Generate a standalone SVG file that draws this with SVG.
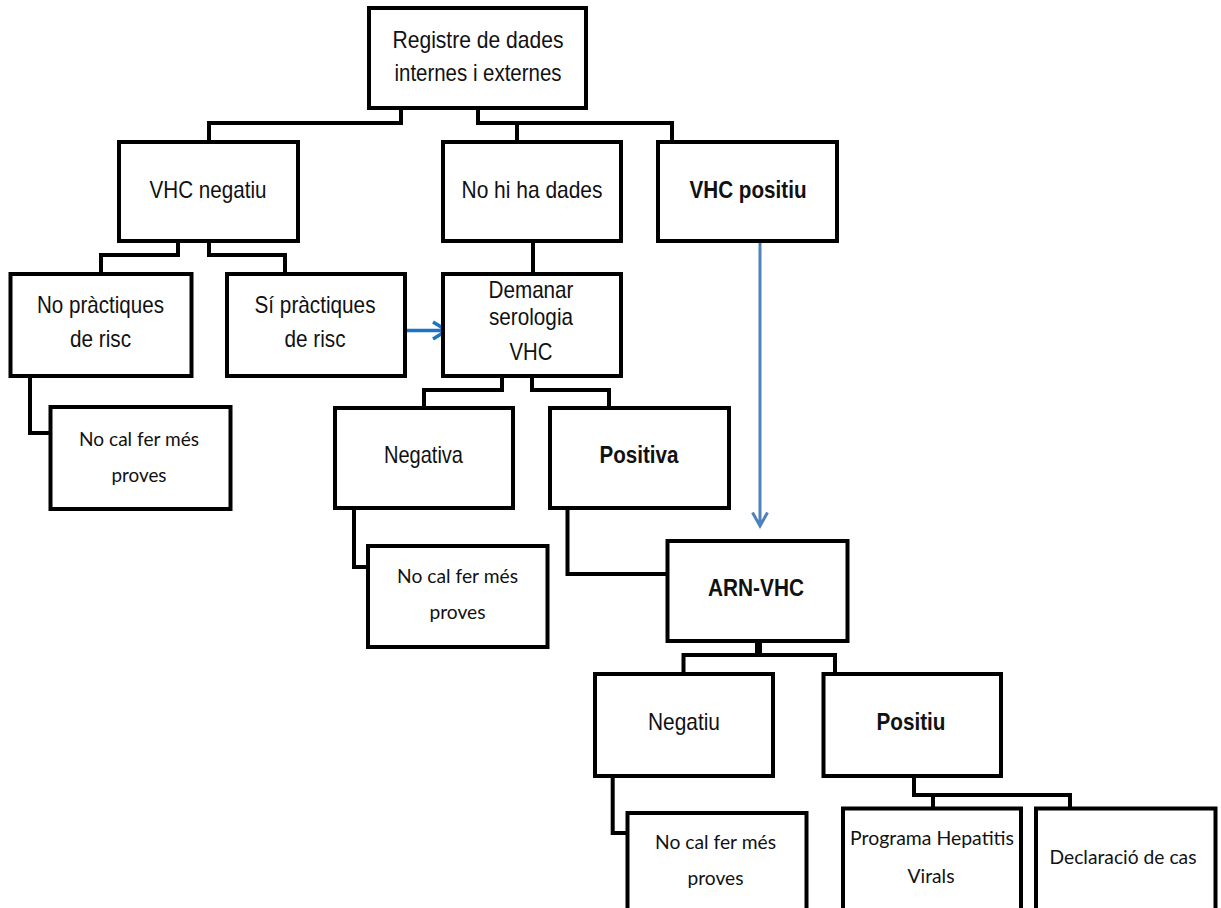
<svg xmlns="http://www.w3.org/2000/svg" width="1221" height="908" viewBox="0 0 1221 908">
<style>
.box{fill:#fff;stroke:#000;stroke-width:4}
.t{font-family:"Liberation Sans",Arial,sans-serif;font-size:24px;fill:#111;text-anchor:middle}
.b{font-weight:bold}
.c{font-family:Lato,"Open Sans",sans-serif;font-size:19px;fill:#111;text-anchor:middle}
.ln{fill:none;stroke:#000;stroke-width:4;stroke-linejoin:miter}
</style>
<rect width="1221" height="908" fill="#fff"/>
<g id="connectors">
<path class="ln" d="M401,108 V123 H209 V142"/>
<path class="ln" d="M478,108 V123 H672 V142 M517,123 V142"/>
<path class="ln" d="M178,241 V255 H101 V274 M209,241 V255 H285 V274"/>
<path class="ln" d="M533,241 V274"/>
<path class="ln" d="M30,376 V433 H52"/>
<path class="ln" d="M502,376 V390 H424 V408 M532,376 V390 H609 V408"/>
<path class="ln" d="M354,508 V567 H370"/>
<path class="ln" d="M567.5,508 V574 H667"/>
<path class="ln" d="M758.5,641 V655" style="stroke-width:7"/>
<path class="ln" d="M683.5,673 V655 H835 V673"/>
<path class="ln" d="M612.7,776 V833 H628"/>
<path class="ln" d="M914,776 V795 H1070 V808 M933,795 V808"/>
<path fill="none" stroke="#1a75c4" stroke-width="3.5" d="M405,330.5 H446 M433,322 L447,330.5 L433,339"/>
<path fill="none" stroke="#4f81bd" stroke-width="3" d="M760,241 V525 M752.5,512.5 L760,526 L767.5,512.5"/>
</g>
<g id="root"><rect class="box" x="369" y="8" width="217" height="100"/>
<text class="t" x="478" y="48" textLength="171" lengthAdjust="spacingAndGlyphs">Registre de dades</text>
<text class="t" x="478" y="81" textLength="167" lengthAdjust="spacingAndGlyphs">internes i externes</text></g>
<g id="vhc-negatiu"><rect class="box" x="119" y="142" width="179" height="99"/>
<text class="t" x="208" y="198" textLength="117" lengthAdjust="spacingAndGlyphs">VHC negatiu</text></g>
<g id="no-dades"><rect class="box" x="443" y="142" width="178" height="99"/>
<text class="t" x="532" y="198" textLength="141" lengthAdjust="spacingAndGlyphs">No hi ha dades</text></g>
<g id="vhc-positiu"><rect class="box" x="658" y="142" width="179" height="99"/>
<text class="t b" x="748" y="198" textLength="117" lengthAdjust="spacingAndGlyphs">VHC positiu</text></g>
<g id="no-practiques"><rect class="box" x="10.5" y="274" width="181" height="102"/>
<text class="t" x="100.5" y="313" textLength="127" lengthAdjust="spacingAndGlyphs">No pràctiques</text>
<text class="t" x="100.5" y="347" textLength="61" lengthAdjust="spacingAndGlyphs">de risc</text></g>
<g id="si-practiques"><rect class="box" x="227" y="274" width="178" height="102"/>
<text class="t" x="315" y="313" textLength="121" lengthAdjust="spacingAndGlyphs">Sí pràctiques</text>
<text class="t" x="315" y="347" textLength="61" lengthAdjust="spacingAndGlyphs">de risc</text></g>
<g id="demanar"><rect class="box" x="443" y="274" width="178" height="102"/>
<text class="t" x="531" y="298" textLength="85" lengthAdjust="spacingAndGlyphs">Demanar</text>
<text class="t" x="531" y="325" textLength="84" lengthAdjust="spacingAndGlyphs">serologia</text>
<text class="t" x="531" y="360" textLength="43" lengthAdjust="spacingAndGlyphs">VHC</text></g>
<g id="no-cal-1"><rect class="box" x="50.5" y="407" width="180" height="102"/>
<text class="c" x="139" y="446" textLength="120" lengthAdjust="spacingAndGlyphs">No cal fer més</text>
<text class="c" x="139" y="482" textLength="55" lengthAdjust="spacingAndGlyphs">proves</text></g>
<g id="negativa"><rect class="box" x="335" y="408" width="178" height="100"/>
<text class="t" x="423.5" y="463" textLength="79" lengthAdjust="spacingAndGlyphs">Negativa</text></g>
<g id="positiva"><rect class="box" x="550" y="408" width="179" height="100"/>
<text class="t b" x="639" y="463" textLength="79" lengthAdjust="spacingAndGlyphs">Positiva</text></g>
<g id="no-cal-2"><rect class="box" x="368" y="546" width="179.5" height="101"/>
<text class="c" x="457.5" y="583" textLength="121" lengthAdjust="spacingAndGlyphs">No cal fer més</text>
<text class="c" x="457.5" y="619" textLength="56" lengthAdjust="spacingAndGlyphs">proves</text></g>
<g id="arn-vhc"><rect class="box" x="667.5" y="541" width="180" height="100"/>
<text class="t b" x="756" y="596" textLength="96" lengthAdjust="spacingAndGlyphs">ARN-VHC</text></g>
<g id="negatiu"><rect class="box" x="595" y="674" width="178" height="102"/>
<text class="t" x="684" y="730" textLength="72" lengthAdjust="spacingAndGlyphs">Negatiu</text></g>
<g id="positiu"><rect class="box" x="823.5" y="674" width="177.5" height="102"/>
<text class="t b" x="911" y="730" textLength="69" lengthAdjust="spacingAndGlyphs">Positiu</text></g>
<g id="no-cal-3"><rect class="box" x="627.5" y="813" width="179" height="105"/>
<text class="c" x="715.5" y="849" textLength="121" lengthAdjust="spacingAndGlyphs">No cal fer més</text>
<text class="c" x="715.5" y="885" textLength="56" lengthAdjust="spacingAndGlyphs">proves</text></g>
<g id="programa"><rect class="box" x="843" y="808.5" width="178" height="110"/>
<text class="c" x="932" y="845" textLength="164" lengthAdjust="spacingAndGlyphs">Programa  Hepatitis</text>
<text class="c" x="931" y="883" textLength="47" lengthAdjust="spacingAndGlyphs">Virals</text></g>
<g id="declaracio"><rect class="box" x="1036" y="808.5" width="179.5" height="110"/>
<text class="c" x="1123" y="864" textLength="147" lengthAdjust="spacingAndGlyphs">Declaració de cas</text></g>
</svg>
